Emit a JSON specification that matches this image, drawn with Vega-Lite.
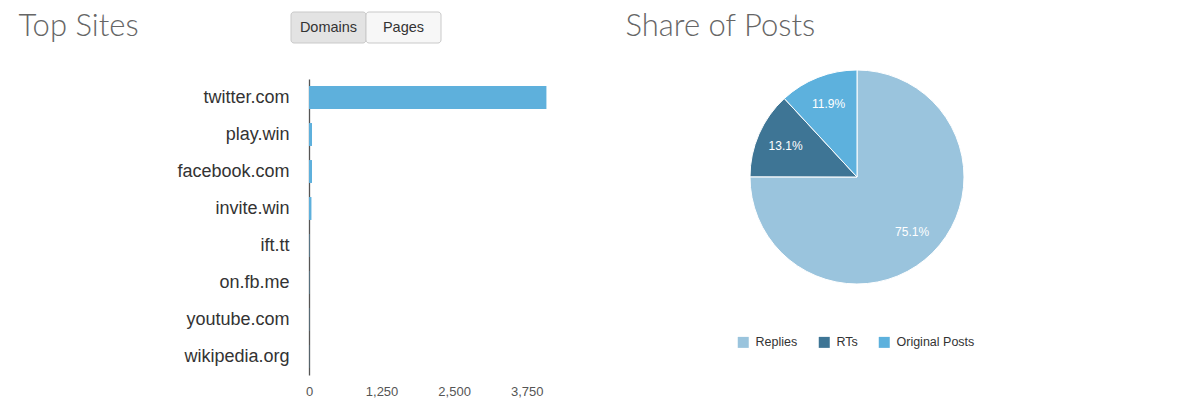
{
  "$schema": "https://vega.github.io/schema/vega-lite/v6.json",
  "background": "white",
  "padding": {"left": 18, "top": 10, "right": 5, "bottom": 5},
  "config": {
    "view": {"stroke": null},
    "font": "Liberation Sans"
  },
  "columns": 2,
  "align": "each",
  "spacing": {"row": 24, "column": 78},
  "resolve": {"scale": {"x": "independent", "y": "independent", "color": "independent"}},
  "concat": [
    {
      "width": 132,
      "height": 31,
      "data": {"values": [{"button": "Domains", "selected": true}, {"button": "Pages", "selected": false}]},
      "encoding": {
        "x": {"field": "button", "type": "nominal", "sort": null, "scale": {"range": [-18, 132], "paddingInner": 0, "paddingOuter": 0},
          "axis": {"orient": "top", "labels": false, "ticks": false, "domain": false, "grid": false, "title": "Top Sites", "titleX": -291, "titleY": 23, "titleAlign": "left", "titleAnchor": "start", "titleBaseline": "alphabetic", "titleFontSize": 31, "titleFont": "Lato", "titleFontWeight": 300, "titleColor": "#666666", "titlePadding": 0}}
      },
      "layer": [
        {
          "mark": {"type": "rect", "cornerRadius": 3, "stroke": "#c9c9c9", "strokeWidth": 1},
          "encoding": {
            "fill": {"condition": {"test": "datum.selected", "value": "#e3e3e3"}, "value": "#f7f7f7"}
          }
        },
        {
          "mark": {"type": "text", "fontSize": 14.5, "color": "#333333", "font": "Liberation Sans"},
          "encoding": {
            "text": {"field": "button"}
          }
        }
      ]
    },
    {
      "width": 214,
      "height": 31,
      "data": {"values": [{"blank": ""}]},
      "mark": {"type": "text"},
      "encoding": {
        "x": {"field": "blank", "type": "nominal",
          "axis": {"orient": "top", "labels": false, "ticks": false, "domain": false, "grid": false, "title": "Share of Posts", "titleX": -125, "titleY": 23, "titleAlign": "left", "titleAnchor": "start", "titleBaseline": "alphabetic", "titleFontSize": 31, "titleFont": "Lato", "titleFontWeight": 300, "titleColor": "#666666", "titlePadding": 0}},
        "text": {"field": "blank"}
      }
    },
    {
      "width": 238,
      "height": 296,
      "data": {"values": [
        {"site": "twitter.com", "count": 4090},
        {"site": "play.win", "count": 52},
        {"site": "facebook.com", "count": 52},
        {"site": "invite.win", "count": 42},
        {"site": "ift.tt", "count": 6},
        {"site": "on.fb.me", "count": 5},
        {"site": "youtube.com", "count": 4},
        {"site": "wikipedia.org", "count": 3}
      ]},
      "mark": {"type": "bar", "color": "#5eb0dc"},
      "encoding": {
        "y": {"field": "site", "type": "nominal", "sort": null, "scale": {"paddingInner": 0.38, "paddingOuter": 0.19},
          "axis": {"title": null, "ticks": false, "labelPadding": 20, "labelFontSize": 18, "labelColor": "#333333", "labelFont": "Liberation Sans", "domainColor": "#555555", "domainWidth": 1.3, "grid": false}},
        "x": {"field": "count", "type": "quantitative", "scale": {"domain": [0, 4100], "nice": false},
          "axis": {"title": null, "values": [0, 1250, 2500, 3750], "format": ",.0f", "labelFlush": false, "grid": false, "domain": false, "ticks": false, "labelFontSize": 13, "labelColor": "#555555", "labelPadding": 10}}
      }
    },
    {
      "width": 214,
      "height": 196,
      "data": {"values": [
        {"type": "Replies", "share": 0.751},
        {"type": "RTs", "share": 0.131},
        {"type": "Original Posts", "share": 0.119}
      ]},
      "encoding": {
        "theta": {"field": "share", "type": "quantitative", "stack": true},
        "color": {"field": "type", "type": "nominal", "sort": ["Replies", "RTs", "Original Posts"],
          "scale": {"domain": ["Replies", "RTs", "Original Posts"], "range": ["#9ac4dd", "#3e7595", "#5db1dd"]},
          "legend": {"title": null, "orient": "none", "legendX": -13, "legendY": 257, "direction": "horizontal", "symbolType": "square", "symbolSize": 121, "symbolStrokeWidth": 0, "labelFontSize": 12.5, "labelColor": "#333333", "labelOffset": 6, "columnPadding": 20}},
        "order": {"field": "share", "type": "quantitative", "sort": "descending"}
      },
      "layer": [
        {"mark": {"type": "arc", "outerRadius": 107, "stroke": "#ffffff", "strokeWidth": 1}},
        {"mark": {"type": "text", "radius": 78, "fontSize": 12},
          "encoding": {
            "color": {"value": "#ffffff"},
            "text": {"field": "share", "type": "quantitative", "format": ".1%"}
          }}
      ]
    }
  ]
}
